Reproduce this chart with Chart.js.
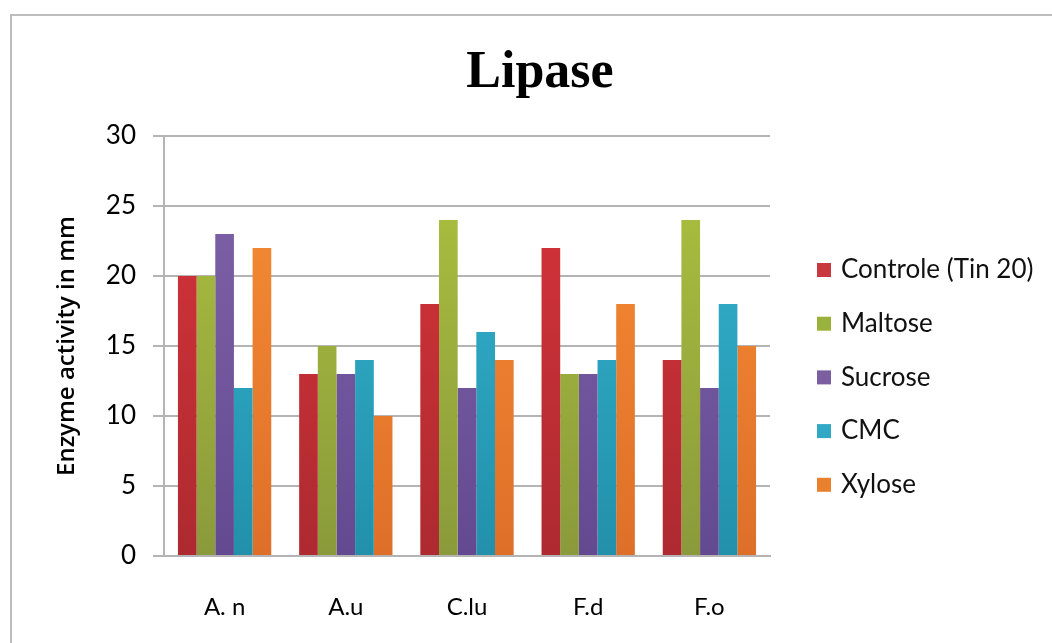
<!DOCTYPE html>
<html>
<head>
<meta charset="utf-8">
<script src="https://cdn.jsdelivr.net/npm/chart.js@4.4.1/dist/chart.umd.min.js"></script>
<style>
  html, body { margin: 0; padding: 0; background: #fff; }
  #wrap { width: 1052px; height: 643px; position: relative; }
</style>
</head>
<body>
<div id="wrap"><canvas id="grafico" width="1052" height="643"></canvas></div>
<script>
const categorias = ['A. n', 'A.u', 'C.lu', 'F.d', 'F.o'];
const series = ['Controle (Tin 20)', 'Maltose', 'Sucrose', 'CMC', 'Xylose'];
const controle = [20, 13, 18, 22, 14];
const maltose = [20, 15, 24, 13, 24];
const sucrose = [23, 13, 12, 13, 12];
const cmc = [12, 14, 16, 14, 18];
const xylose = [22, 10, 14, 18, 15];
const yTicks = [0, 5, 10, 15, 20, 25, 30];

// cor topo, cor base, cor da legenda
const cores = [
  ['#da343b', '#ad2a30', '#c8383e'],
  ['#aec33f', '#8a9a3b', '#9ab23c'],
  ['#8165aa', '#634a90', '#7a5ea0'],
  ['#37b7d4', '#2290aa', '#31a8c6'],
  ['#f88f35', '#de6f29', '#e8802e']
];

function gradiente(i) {
  return (ctx) => {
    const area = ctx.chart.chartArea;
    if (!area) return cores[i][0];
    const g = ctx.chart.ctx.createLinearGradient(0, area.top, 0, area.bottom);
    g.addColorStop(0, cores[i][0]);
    g.addColorStop(1, cores[i][1]);
    return g;
  };
}

const valores = [controle, maltose, sucrose, cmc, xylose];

// titulo, borda e legenda desenhados à mão
const extras = {
  id: 'extras',
  beforeDraw(chart) {
    const c = chart.ctx;
    c.save();
    c.strokeStyle = '#bdbdbd';
    c.lineWidth = 2;
    c.beginPath();
    c.moveTo(11, 643);
    c.lineTo(11, 15);
    c.lineTo(1052, 15);
    c.stroke();
    c.restore();
  },
  afterDraw(chart) {
    const c = chart.ctx;
    c.save();
    c.fillStyle = '#000';
    c.font = 'bold 52px "Liberation Serif"';
    c.textAlign = 'center';
    c.textBaseline = 'alphabetic';
    c.fillText('Lipase', 540, 87);

    c.font = '26px Lato';
    c.textAlign = 'left';
    c.textBaseline = 'middle';
    chart.data.datasets.forEach((ds, i) => {
      const y = 270 + i * 53.7;
      c.fillStyle = cores[i][2];
      c.fillRect(817, y - 7, 14, 14);
      c.fillStyle = '#111';
      c.fillText(ds.label, 841, y);
    });
    c.restore();
  }
};

new Chart(document.getElementById('grafico'), {
  type: 'bar',
  data: {
    labels: categorias,
    datasets: series.map((nome, i) => ({
      label: nome,
      data: valores[i],
      backgroundColor: gradiente(i),
      borderWidth: 0,
      categoryPercentage: 0.77,
      barPercentage: 1
    }))
  },
  options: {
    responsive: false,
    animation: false,
    layout: { padding: { left: 53, right: 282, top: 136, bottom: 0 } },
    plugins: {
      legend: { display: false },
      title: { display: false },
      tooltip: { enabled: false }
    },
    scales: {
      x: {
        afterFit: (s) => { s.height = 87; },
        grid: { display: false, drawTicks: false },
        border: { display: true, color: '#b4b4b4', width: 2 },
        ticks: { color: '#000', padding: 37, font: { family: 'Lato', size: 24 } }
      },
      y: {
        min: 0,
        max: 30,
        afterFit: (s) => { s.width = 111; },
        afterBuildTicks: (s) => { s.ticks = yTicks.map(v => ({ value: v })); },
        grid: { color: '#b4b4b4', lineWidth: 2, tickLength: 11, drawTicks: true },
        border: { display: true, color: '#b4b4b4', width: 2 },
        ticks: { color: '#000', padding: 17, font: { family: 'Lato', size: 26 } },
        title: {
          display: true,
          text: 'Enzyme activity in mm',
          color: '#000',
          padding: 0,
          font: { family: 'Open Sans', size: 24, weight: '600' }
        }
      }
    }
  },
  plugins: [extras]
});
</script>
</body>
</html>
